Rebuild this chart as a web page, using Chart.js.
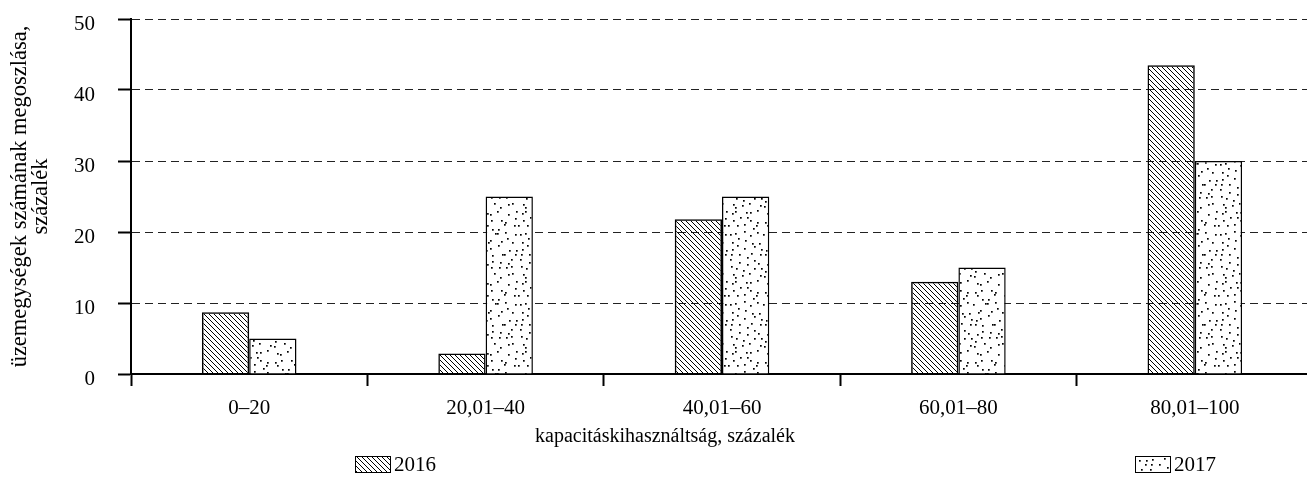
<!DOCTYPE html>
<html>
<head>
<meta charset="utf-8">
<script src="https://cdn.jsdelivr.net/npm/chart.js@4/dist/chart.umd.min.js"></script>
<style>
  html, body { margin: 0; padding: 0; background: #fff; overflow: hidden; }
  #wrap { position: relative; width: 1313px; height: 485px; }
</style>
</head>
<body>
<div id="wrap"><canvas id="chart"></canvas></div>
<script>
// Chart data
const categories = ['0–20', '20,01–40', '40,01–60', '60,01–80', '80,01–100'];
const values2016 = [8.7, 2.9, 21.8, 13.0, 43.5];
const values2017 = [5.0, 25.0, 25.0, 15.0, 30.0];
const seriesNames = ['2016', '2017'];
const yTicks = [0, 10, 20, 30, 40, 50];
const xTitle = 'kapacitáskihasználtság, százalék';

const FONT = '"Liberation Serif", "Times New Roman", serif';

// diagonal hatch (top-left to bottom-right)
function hatchPattern() {
    const s = 5;
    const c = document.createElement('canvas');
    c.width = s; c.height = s;
    const g = c.getContext('2d');
    g.strokeStyle = '#000';
    g.lineWidth = 1;
    g.beginPath();
    [-s, 0, s].forEach(k => {
        g.moveTo(k - 1, -1);
        g.lineTo(k + s + 1, s + 1);
    });
    g.stroke();
    return g.createPattern(c, 'repeat');
}

// scattered dots: one dot jittered inside each small cell
function dotPattern() {
    const cell = 7, n = 10, s = cell * n;
    const c = document.createElement('canvas');
    c.width = s; c.height = s;
    const g = c.getContext('2d');
    g.fillStyle = '#fff';
    g.fillRect(0, 0, s, s);
    g.fillStyle = '#000';
    let seed = 987654;
    const next = () => { seed = (seed * 1103515245 + 12345) % 2147483648; return seed / 2147483648; };
    for (let i = 0; i < n; i++) {
        for (let j = 0; j < n; j++) {
            const x = i * cell + Math.floor(next() * (cell - 1));
            const y = j * cell + Math.floor(next() * (cell - 1));
            g.fillRect(x, y, 1.7, 1.7);
        }
    }
    return g.createPattern(c, 'repeat');
}

const fills = [hatchPattern(), dotPattern()];

// axis title + legend under the x axis, placed like the original
const bottomBlock = {
    id: 'bottomBlock',
    afterDraw(chart, args, opts) {
        const ctx = chart.ctx;
        ctx.save();
        ctx.fillStyle = '#000';
        ctx.textBaseline = 'middle';
        ctx.textAlign = 'center';
        ctx.font = '20px ' + FONT;
        ctx.fillText(xTitle, opts.titleX, opts.titleY);

        ctx.textAlign = 'left';
        ctx.font = '21px ' + FONT;
        chart.data.datasets.forEach((ds, i) => {
            const x = opts.xs[i];
            const y = opts.y;
            ctx.fillStyle = ds.backgroundColor;
            ctx.fillRect(x, y - 8, 35, 16);
            ctx.strokeStyle = '#000';
            ctx.lineWidth = 1;
            ctx.strokeRect(x + 0.5, y - 7.5, 35, 16);
            ctx.fillStyle = '#000';
            ctx.fillText(ds.label, x + 39, y + 1);
        });
        ctx.restore();
    }
};

new Chart(document.getElementById('chart'), {
    type: 'bar',
    data: {
        labels: categories,
        datasets: [
            {
                label: seriesNames[0],
                data: values2016,
                backgroundColor: fills[0],
                borderColor: '#000',
                borderWidth: 1.5
            },
            {
                label: seriesNames[1],
                data: values2017,
                backgroundColor: fills[1],
                borderColor: '#000',
                borderWidth: 1.5
            }
        ]
    },
    options: {
        responsive: true,
        maintainAspectRatio: false,
        animation: false,
        events: [],
        layout: { padding: { top: 19, right: 0, bottom: 36, left: 0 } },
        datasets: { bar: { categoryPercentage: 0.4, barPercentage: 1.0 } },
        plugins: {
            legend: { display: false },
            tooltip: { enabled: false },
            bottomBlock: { titleX: 665, titleY: 437, xs: [355, 1135], y: 464 }
        },
        scales: {
            x: {
                afterFit(scale) { scale.height = 75; scale.paddingLeft = 0; scale.paddingRight = 0; },
                grid: { drawOnChartArea: false, tickLength: 12, tickWidth: 2, tickColor: '#000' },
                border: { color: '#000', width: 2 },
                ticks: { color: '#000', padding: 10, maxRotation: 0, font: { family: FONT, size: 21 } }
            },
            y: {
                min: 0,
                max: 50,
                afterFit(scale) { scale.width = 131; scale.paddingTop = 0; scale.paddingBottom = 0; },
                afterBuildTicks(scale) { scale.ticks = yTicks.map(v => ({ value: v })); },
                grid: { color: '#222', lineWidth: 1, tickLength: 13, tickWidth: 2, tickColor: '#000', tickBorderDash: [] },
                border: { color: '#000', width: 2, dash: [8, 5] },
                ticks: { color: '#000', padding: 23, labelOffset: 5, font: { family: FONT, size: 21 } },
                title: {
                    display: true,
                    text: ['üzemegységek számának megoszlása,', 'százalék'],
                    color: '#000',
                    padding: { top: 9, bottom: 0 },
                    font: { family: FONT, size: 22.5, lineHeight: 0.95 }
                }
            }
        }
    },
    plugins: [bottomBlock]
});
</script>
</body>
</html>
